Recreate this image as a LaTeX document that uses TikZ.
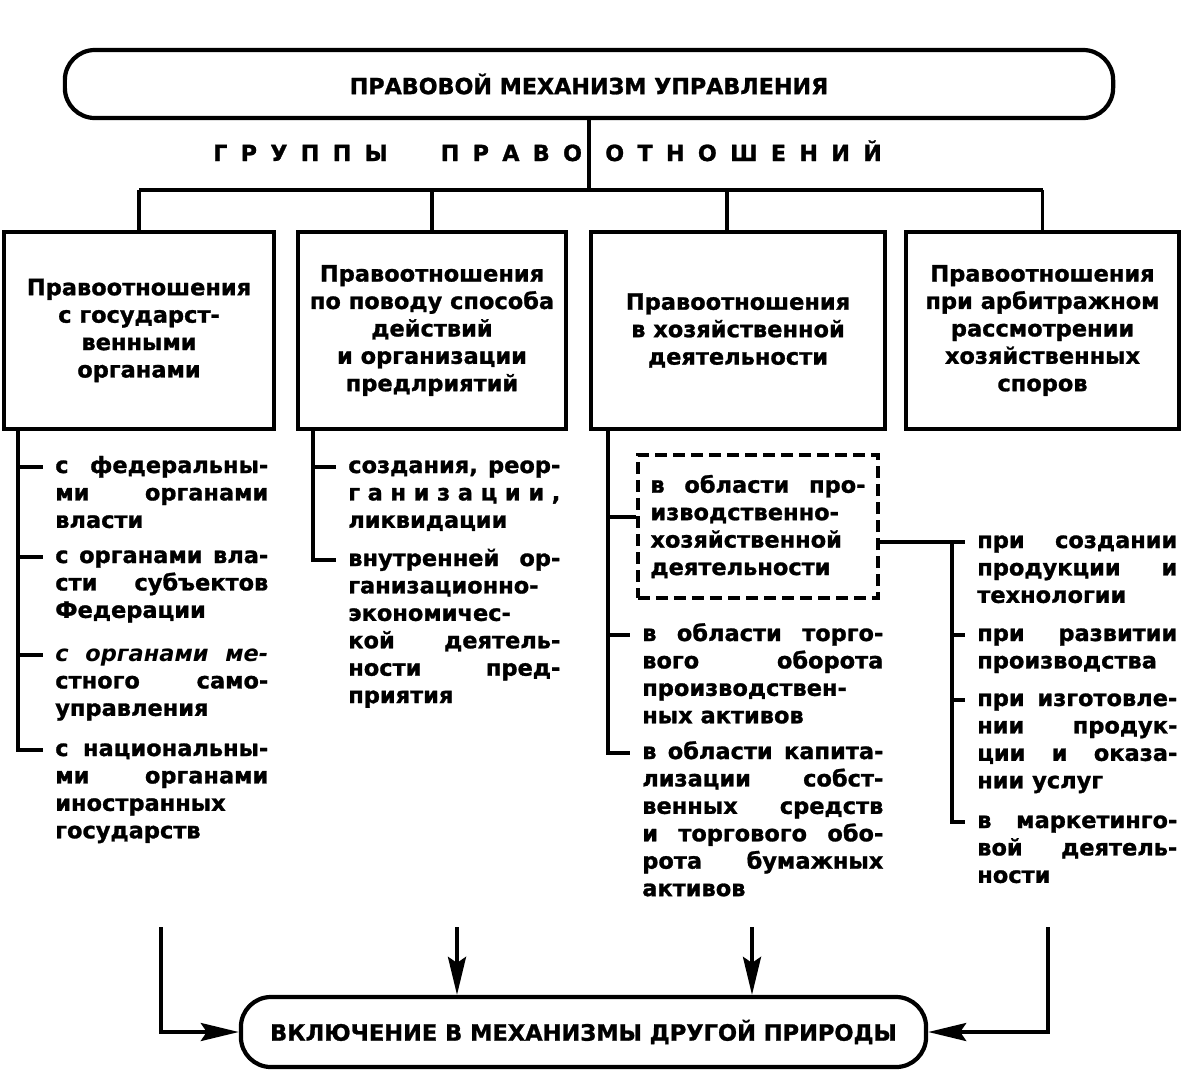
\documentclass[tikz,border=0pt]{standalone}
\usepackage{fontspec}
\setmainfont{DejaVu Sans}[BoldFeatures={FakeBold=1.2}]
\usetikzlibrary{arrows.meta}

\newcommand\bodyfont{\fontsize{16pt}{19.5pt}\selectfont\bfseries}
\newcommand\headfont{\fontsize{15.8pt}{19pt}\selectfont\bfseries}
\newcommand\hangby[1]{\hangindent=#1\rightskip=0pt minus 1fil\relax}

\tikzset{
  link/.style={line width=2.6pt},
  feed/.style={line width=2.6pt,-{Stealth[length=0.95cm,width=0.45cm,inset=0.15cm]}},
  headbox/.style={draw,line width=3pt,rounded corners=0.75cm,inner sep=0pt,font=\headfont},
  groupbox/.style={draw,line width=3pt,inner sep=0pt,align=center,font=\bodyfont,minimum height=4.925cm},
  entry/.style={anchor=base west,inner sep=0pt,align=justify,font=\bodyfont},
  dashbox/.style={draw,line width=3pt,dash pattern=on 0.3cm off 0.15cm,inner sep=0pt,align=justify,font=\bodyfont}
}

\begin{document}
\begin{tikzpicture}[x=0.025cm,y=-0.025cm]
  \useasboundingbox (0,0) rectangle (1184,1086);

  % head and groups
  \node[headbox,minimum width=26.2cm,minimum height=1.7cm] (mech) at (589,84) {ПРАВОВОЙ МЕХАНИЗМ УПРАВЛЕНИЯ};
  \node[anchor=base west,inner sep=0pt,font=\headfont\addfontfeature{LetterSpace=60}] (grp1) at (213,161) {ГРУППЫ\hspace{0.8cm} ПРАВО};
  \node[anchor=base west,inner sep=0pt,font=\headfont\addfontfeature{LetterSpace=60}] (grp2) at (605,161) {ОТНОШЕНИЙ};
  \coordinate (bus) at (589,190);

  \node[groupbox,minimum width=6.75cm] (box1) at (139,330.5) {Правоотношения\\с государст-\\венными\\органами};
  \node[groupbox,minimum width=6.7cm] (box2) at (432,330.5) {Правоотношения\\по поводу способа\\действий\\и организации\\предлриятий};
  \node[groupbox,minimum width=7.35cm] (box3) at (738,330.5) {Правоотношения\\в хозяйственной\\деятельности};
  \node[groupbox,minimum width=6.825cm] (box4) at (1042.5,330.5) {Правоотношения\\при арбитражном\\рассмотрении\\хозяйственных\\споров};

  \draw[link] (mech.south) -- (mech.south |- bus);
  \draw[link] (box1.north |- bus) -- (box4.north |- bus);
  \draw[link] (box1.north |- bus) -- (box1.north);
  \draw[link] (box2.north |- bus) -- (box2.north);
  \coordinate (drop3) at ([xshift=-0.275cm]box3.north);
  \draw[link] (drop3 |- bus) -- (drop3);
  \draw[link] (box4.north |- bus) -- (box4.north);

  % first column
  \node[entry,text width=5.325cm] (i11) at (55,473) {\hangby{0.625cm}с федеральны-\linebreak ми органами\linebreak власти};
  \node[entry,text width=5.325cm] (i12) at (55,563) {\hangby{0.625cm}с органами вла-\linebreak сти субъектов\linebreak Федерации};
  \node[entry,text width=5.325cm] (i13) at (55,661) {\hangby{0.625cm}{\itshape с органами ме-}\linebreak стного само-\linebreak управления};
  \node[entry,text width=5.325cm] (i14) at (55,756) {\hangby{0.625cm}с национальны-\linebreak ми органами\linebreak иностранных\linebreak государств};

  % second column
  \node[entry,text width=5.3cm] (i21) at (348,473) {\hangby{0.6cm}создания, реор-\linebreak г а н и з а ц и и ,\linebreak ликвидации};
  \node[entry,text width=5.3cm] (i22) at (348,566) {\hangby{0.6cm}внутренней ор-\linebreak ганизационно-\linebreak экономичес-\linebreak кой деятель-\linebreak ности пред-\linebreak приятия};

  % third column
  \node[dashbox,text width=5.375cm,minimum width=6cm,minimum height=3.575cm] (d31) at (758,526.5) {\hangby{0.625cm}в области про-\linebreak изводственно-\linebreak хозяйственной\linebreak деятельности};
  \node[entry,text width=6.025cm] (i32) at (642,641) {\hangby{0.65cm}в области торго-\linebreak вого оборота\linebreak производствен-\linebreak ных активов};
  \node[entry,text width=6.025cm] (i33) at (642,759) {\hangby{0.65cm}в области капита-\linebreak лизации собст-\linebreak венных средств\linebreak и торгового обо-\linebreak рота бумажных\linebreak активов};

  % fourth column
  \node[entry,text width=5cm] (i41) at (977,548) {\hangby{0.525cm}при создании\linebreak продукции и\linebreak технологии};
  \node[entry,text width=5cm] (i42) at (977,641) {\hangby{0.525cm}при развитии\linebreak производства};
  \node[entry,text width=5cm] (i43) at (977,706) {\hangby{0.525cm}при изготовле-\linebreak нии продук-\linebreak ции и оказа-\linebreak нии услуг};
  \node[entry,text width=5cm] (i44) at (977,828) {\hangby{0.525cm}в маркетинго-\linebreak вой деятель-\linebreak ности};

  \foreach \n in {i11,i12,i13,i14,i21,i22,i32,i33,i41,i42,i43,i44}
    \coordinate (\n-t) at ([xshift=-0.3cm,yshift=0.15cm]\n.base west);

  \coordinate (tr1) at ([xshift=0.4cm]box1.south west);
  \draw[link] (tr1) |- (i14-t);
  \draw[link] (tr1 |- i11-t) -- (i11-t);
  \draw[link] (tr1 |- i12-t) -- (i12-t);
  \draw[link] (tr1 |- i13-t) -- (i13-t);

  \coordinate (tr2) at ([xshift=0.425cm]box2.south west);
  \draw[link] (tr2) |- (i22-t);
  \draw[link] (tr2 |- i21-t) -- (i21-t);

  \coordinate (tr3) at ([xshift=0.475cm]box3.south west);
  \coordinate (d31-t) at ([yshift=0.24cm]d31.west);
  \draw[link] (tr3) |- (i33-t);
  \draw[link] (tr3 |- d31-t) -- (d31-t);
  \draw[link] (tr3 |- i32-t) -- (i32-t);

  \coordinate (d31-e) at ([yshift=-0.39cm]d31.east);
  \coordinate (tr4) at ([xshift=-0.325cm]i41-t);
  \draw[link] (d31-e) -- (d31-e -| i41-t);
  \draw[link] (tr4 |- d31-e) |- (i44-t);
  \draw[link] (tr4 |- i42-t) -- (i42-t);
  \draw[link] (tr4 |- i43-t) -- (i43-t);

  % result
  \node[headbox,font=\fontsize{16pt}{19pt}\selectfont\bfseries,minimum width=17.125cm,minimum height=1.75cm] (final) at (583.5,1032) {ВКЛЮЧЕНИЕ В МЕХАНИЗМЫ ДРУГОЙ ПРИРОДЫ};
  \coordinate (a1) at (161,927);
  \coordinate (a2) at (457,927);
  \coordinate (a3) at (752,927);
  \coordinate (a4) at (1048,927);
  \draw[feed] (a1) |- (final.west);
  \draw[feed] (a2) -- (a2 |- final.north);
  \draw[feed] (a3) -- (a3 |- final.north);
  \draw[feed] (a4) |- (final.east);
\end{tikzpicture}
\end{document}
